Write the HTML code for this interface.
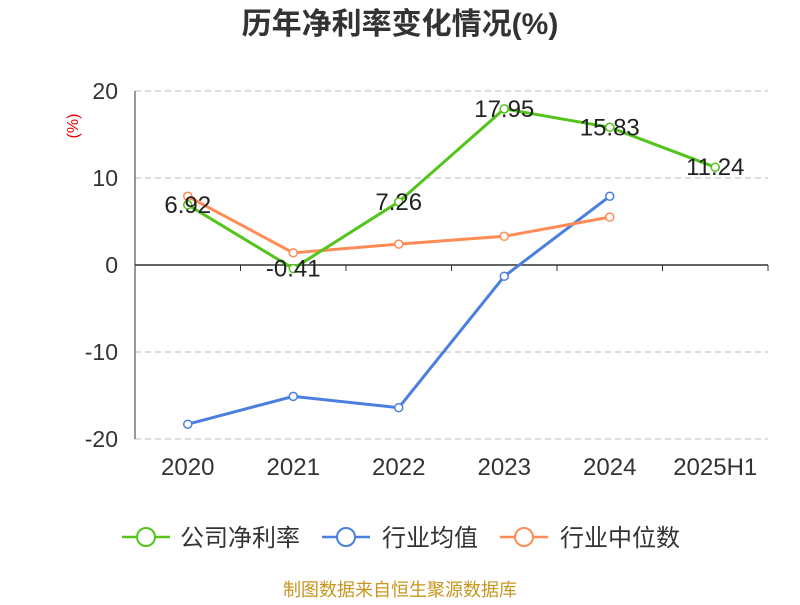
<!DOCTYPE html>
<html><head><meta charset="utf-8"><style>
body{margin:0;background:#fff;font-family:"Liberation Sans","Noto Sans CJK SC",sans-serif}
</style></head><body>
<svg width="800" height="600" xmlns="http://www.w3.org/2000/svg" font-family="Liberation Sans, Noto Sans CJK SC, sans-serif">
<text x="400" y="34" text-anchor="middle" font-size="30" font-weight="bold" fill="#333">历年净利率变化情况(%)</text>
<text transform="translate(78,126) rotate(-90)" text-anchor="middle" font-size="16" fill="#e00">(%)</text>
<g id="grid"></g><g id="axes"></g><g id="series"></g>
<g>
<g><line x1="122" y1="537" x2="170" y2="537" stroke="#52c41a" stroke-width="2.5"/><circle cx="146" cy="537" r="9" fill="#fff" stroke="#52c41a" stroke-width="2"/><text x="180" y="546" font-size="24" fill="#333">公司净利率</text></g>
<g><line x1="322" y1="537" x2="370" y2="537" stroke="#4a7fe0" stroke-width="2.5"/><circle cx="346" cy="537" r="9" fill="#fff" stroke="#4a7fe0" stroke-width="2"/><text x="382" y="546" font-size="24" fill="#333">行业均值</text></g>
<g><line x1="500" y1="537" x2="548" y2="537" stroke="#ff8c55" stroke-width="2.5"/><circle cx="524" cy="537" r="9" fill="#fff" stroke="#ff8c55" stroke-width="2"/><text x="560" y="546" font-size="24" fill="#333">行业中位数</text></g>
</g>
<text x="400" y="596" text-anchor="middle" font-size="18" fill="#c8961e">制图数据来自恒生聚源数据库</text>
</svg>
<script>
const categories=["2020","2021","2022","2023","2024","2025H1"];
const company=[6.92,-0.41,7.26,17.95,15.83,11.24];
const industryMean=[-18.3,-15.1,-16.4,-1.3,7.9];
const industryMedian=[7.9,1.4,2.4,3.3,5.5];
const yTicks=[20,10,0,-10,-20];
const NS="http://www.w3.org/2000/svg";
const x0=135,x1=768,bw=(x1-x0)/categories.length;
const xs=i=>x0+bw*(i+0.5);
const ys=v=>265-v*8.7;
function mk(p,tag,a){const e=document.createElementNS(NS,tag);for(const k in a)e.setAttribute(k,a[k]);p.appendChild(e);return e;}
const grid=document.getElementById('grid'),axes=document.getElementById('axes'),ser=document.getElementById('series');
yTicks.forEach(t=>{
 if(t!==0){const l=mk(grid,'line',{x1:x0,x2:x1,y1:ys(t),y2:ys(t),stroke:'#bbb','stroke-dasharray':'6,4'});
 
 }
 const tx=mk(axes,'text',{x:118,y:ys(t)+8,'text-anchor':'end','font-size':23,fill:'#333'});tx.textContent=t;
 
 
});
const ya=mk(axes,'line',{x1:x0,x2:x0,y1:ys(20),y2:ys(-20),stroke:'#333'});


const xa=mk(axes,'line',{x1:x0,x2:x1,y1:ys(0),y2:ys(0),stroke:'#333','stroke-width':1.5});


for(let i=0;i<=categories.length;i++){mk(axes,'line',{x1:x0+bw*i,x2:x0+bw*i,y1:ys(0),y2:ys(0)+6,stroke:'#333'});}
categories.forEach((c,i)=>{const t=mk(axes,'text',{x:xs(i),y:475,'text-anchor':'middle','font-size':24,fill:'#333'});t.textContent=c;
 
 });
function line(vals,color,name,labels){
 const g=mk(ser,'g',{});
 
 
 mk(g,'polyline',{points:vals.map((v,i)=>xs(i)+','+ys(v)).join(' '),fill:'none',stroke:color,'stroke-width':3});
 vals.forEach((v,i)=>{const c=mk(g,'circle',{cx:xs(i),cy:ys(v),r:4,fill:'#fff',stroke:color,'stroke-width':1.5});
  
  
  if(labels){const t=mk(g,'text',{x:xs(i),y:ys(v)+8,'text-anchor':'middle','font-size':24,fill:'#222'});t.textContent=v.toFixed(2);
   
   }
 });
}
line(industryMean,'#4a7fe0','industry-mean-line',false);
line(industryMedian,'#ff8c55','industry-median-line',false);
line(company,'#52c41a','company-net-margin-line',true);
</script>
</body></html>
